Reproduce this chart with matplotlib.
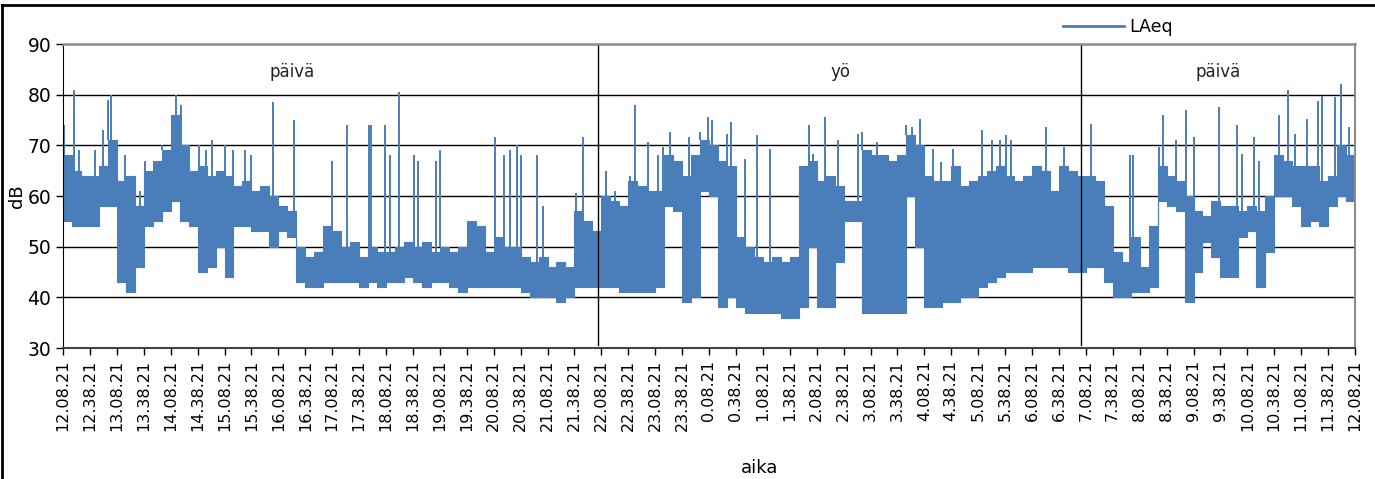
import numpy as np
import matplotlib.pyplot as plt
from matplotlib.lines import Line2D

# LAeq, 10 min bins starting 12.08.21, lower and upper edge of the band (dB)
lo = [55, 54, 54, 54, 58, 58, 43, 41, 46, 54,
      55, 57, 59, 55, 54, 45, 46, 50, 44, 54,
      54, 53, 53, 50, 53, 52, 43, 42, 42, 43,
      43, 43, 43, 42, 43, 42, 43, 43, 44, 43,
      42, 43, 43, 42, 41, 42, 42, 42, 42, 42,
      42, 41, 40, 40, 40, 39, 40, 42, 42, 42,
      42, 42, 41, 41, 41, 41, 42, 58, 57, 39,
      40, 61, 60, 38, 40, 38, 37, 37, 37, 37,
      36, 36, 38, 50, 38, 38, 47, 55, 55, 37,
      37, 37, 37, 37, 60, 50, 38, 38, 39, 39,
      40, 40, 42, 43, 44, 45, 45, 45, 46, 46,
      46, 46, 45, 45, 46, 46, 43, 40, 40, 41,
      41, 42, 59, 58, 57, 39, 45, 51, 48, 44,
      44, 52, 53, 42, 49, 60, 60, 58, 54, 55,
      54, 58, 60, 59]
hi = [68, 65, 64, 64, 66, 71, 63, 64, 58, 65,
      67, 69, 76, 70, 65, 66, 64, 65, 64, 62,
      63, 61, 62, 60, 58, 57, 50, 48, 49, 54,
      53, 50, 51, 48, 50, 49, 49, 50, 51, 50,
      51, 49, 50, 49, 50, 55, 54, 49, 52, 50,
      50, 48, 47, 48, 46, 47, 46, 57, 55, 53,
      60, 59, 58, 63, 62, 61, 61, 68, 67, 64,
      68, 71, 70, 67, 66, 52, 50, 48, 47, 48,
      47, 48, 66, 67, 63, 64, 62, 59, 59, 69,
      68, 68, 67, 68, 72, 70, 64, 63, 63, 66,
      62, 63, 64, 65, 66, 64, 63, 64, 66, 65,
      61, 66, 65, 64, 64, 63, 58, 49, 47, 52,
      46, 54, 66, 64, 63, 60, 57, 56, 59, 58,
      58, 57, 58, 57, 60, 68, 67, 66, 66, 66,
      63, 64, 70, 68]

# short peaks: minutes after 12.08.21 and peak level (dB)
spike_t = [1, 12, 18, 36, 45, 50, 54, 69, 86, 91, 110, 126, 132, 152, 159,
           166, 181, 189, 203, 210, 234, 257, 300, 316, 341, 343, 359, 364,
           375, 391, 396, 416, 420, 481, 491, 498, 506, 511, 528, 535, 572,
           580, 605, 615, 632, 637, 647, 652, 663, 669, 676, 698, 710, 719,
           723, 740, 744, 760, 774, 788, 831, 836, 849, 864, 886, 891, 907,
           940, 946, 955, 970, 979, 992, 1024, 1035, 1044, 1051, 1057, 1096,
           1116, 1146, 1189, 1193, 1221, 1226, 1241, 1252, 1260, 1288, 1308,
           1314, 1327, 1333, 1355, 1365, 1373, 1386, 1399, 1403, 1418, 1424,
           1433]
spike_db = [74, 81, 69, 69, 73, 79, 80, 68, 61, 67, 70, 80, 78, 70, 69,
            71, 70, 69, 69, 68, 78.5, 75, 67, 74, 74, 74, 74, 68,
            80.5, 68, 67, 67, 69, 71.6, 68, 69, 70, 68, 68, 58, 60.5,
            71.6, 65, 61, 64, 78, 62, 70.6, 68, 69.6, 72.6, 71.6, 72.6, 75.5,
            75, 72.3, 74.6, 67.3, 72, 69.3, 74, 68.3, 75.5, 71, 72.3, 72.6, 70.6,
            74, 73.6, 75.2, 69.3, 66.7, 69.3, 73, 71, 71, 72, 71, 73.6,
            69.6, 74.2, 68, 68, 69.6, 76, 71, 77, 71.6, 77.5, 74,
            68.3, 71.6, 67, 76, 81, 72.3, 75.2, 78.8, 79.8, 79.5, 82.1,
            73.6]

tick_labels = ["12.08.21", "12.38.21", "13.08.21", "13.38.21", "14.08.21",
               "14.38.21", "15.08.21", "15.38.21", "16.08.21", "16.38.21",
               "17.08.21", "17.38.21", "18.08.21", "18.38.21", "19.08.21",
               "19.38.21", "20.08.21", "20.38.21", "21.08.21", "21.38.21",
               "22.08.21", "22.38.21", "23.08.21", "23.38.21", "0.08.21",
               "0.38.21", "1.08.21", "1.38.21", "2.08.21", "2.38.21",
               "3.08.21", "3.38.21", "4.08.21", "4.38.21", "5.08.21",
               "5.38.21", "6.08.21", "6.38.21", "7.08.21", "7.38.21",
               "8.08.21", "8.38.21", "9.08.21", "9.38.21", "10.08.21",
               "10.38.21", "11.08.21", "11.38.21", "12.08.21"]

period_names = ["päivä", "yö", "päivä"]
period_mid = [255, 866, 1287]
period_bounds = [596, 1135]

blue = "#4A7EBB"

fig = plt.figure(figsize=(13.75, 4.79), dpi=100)
ax = fig.add_axes([63/1375, 1-348/479, 1292/1375, 304/479])

t_edges = np.arange(len(lo) + 1) * 10
lo_s = np.append(lo, lo[-1])
hi_s = np.append(hi, hi[-1])
ax.fill_between(t_edges, lo_s, hi_s, step="post", color=blue, lw=0.8, edgecolor=blue)

st = np.array(spike_t)
base = np.array(hi)[np.minimum(st // 10, len(hi) - 1)]
ax.vlines(st, base, spike_db, color=blue, lw=1.4)

for b in period_bounds:
    ax.axvline(b, color="black", lw=1.0, ymin=0.01)
for name, m in zip(period_names, period_mid):
    ax.text(m, 84.5, name, ha="center", va="center", fontsize=12, color="#222222")

ax.set_xlim(0, 1440)
ax.set_ylim(30, 90)
ax.set_yticks(range(30, 91, 10))
ax.set_xticks(np.arange(len(tick_labels)) * 30)
ax.set_xticklabels(tick_labels, rotation=90, fontsize=11.5)
ax.tick_params(axis="y", labelsize=13.5, direction="out", length=5, width=1)
ax.tick_params(axis="x", direction="out", length=5, width=1)
for y in range(40, 90, 10):
    ax.axhline(y, color="black", lw=1.0, zorder=0)

ax.spines["top"].set_color("#8c8c8c")
ax.spines["top"].set_linewidth(1.8)
ax.spines["right"].set_color("#8c8c8c")
ax.spines["right"].set_linewidth(1.5)
ax.spines["left"].set_color("black")
ax.spines["bottom"].set_color("#444444")
ax.spines["bottom"].set_linewidth(1.5)

ax.set_ylabel("dB", fontsize=13)
ax.yaxis.set_label_coords(-0.029, 0.5)
fig.text(760/1375, 1-468/479, "aika", ha="center", va="center", fontsize=13)

handle = Line2D([], [], color=blue, lw=2)
fig.legend([handle], ["LAeq"], loc="center", bbox_to_anchor=(1118/1375, 1-27/479),
           frameon=False, fontsize=12.5, handlelength=3.5, handletextpad=0.3)

# outer frame of the pasted figure
fig.add_artist(Line2D([2/1375, 2/1375], [0, 1-5/479], color="black", lw=2))
fig.add_artist(Line2D([2/1375, 1], [1-5/479, 1-5/479], color="black", lw=2))

fig.savefig("out.png", dpi=100)
